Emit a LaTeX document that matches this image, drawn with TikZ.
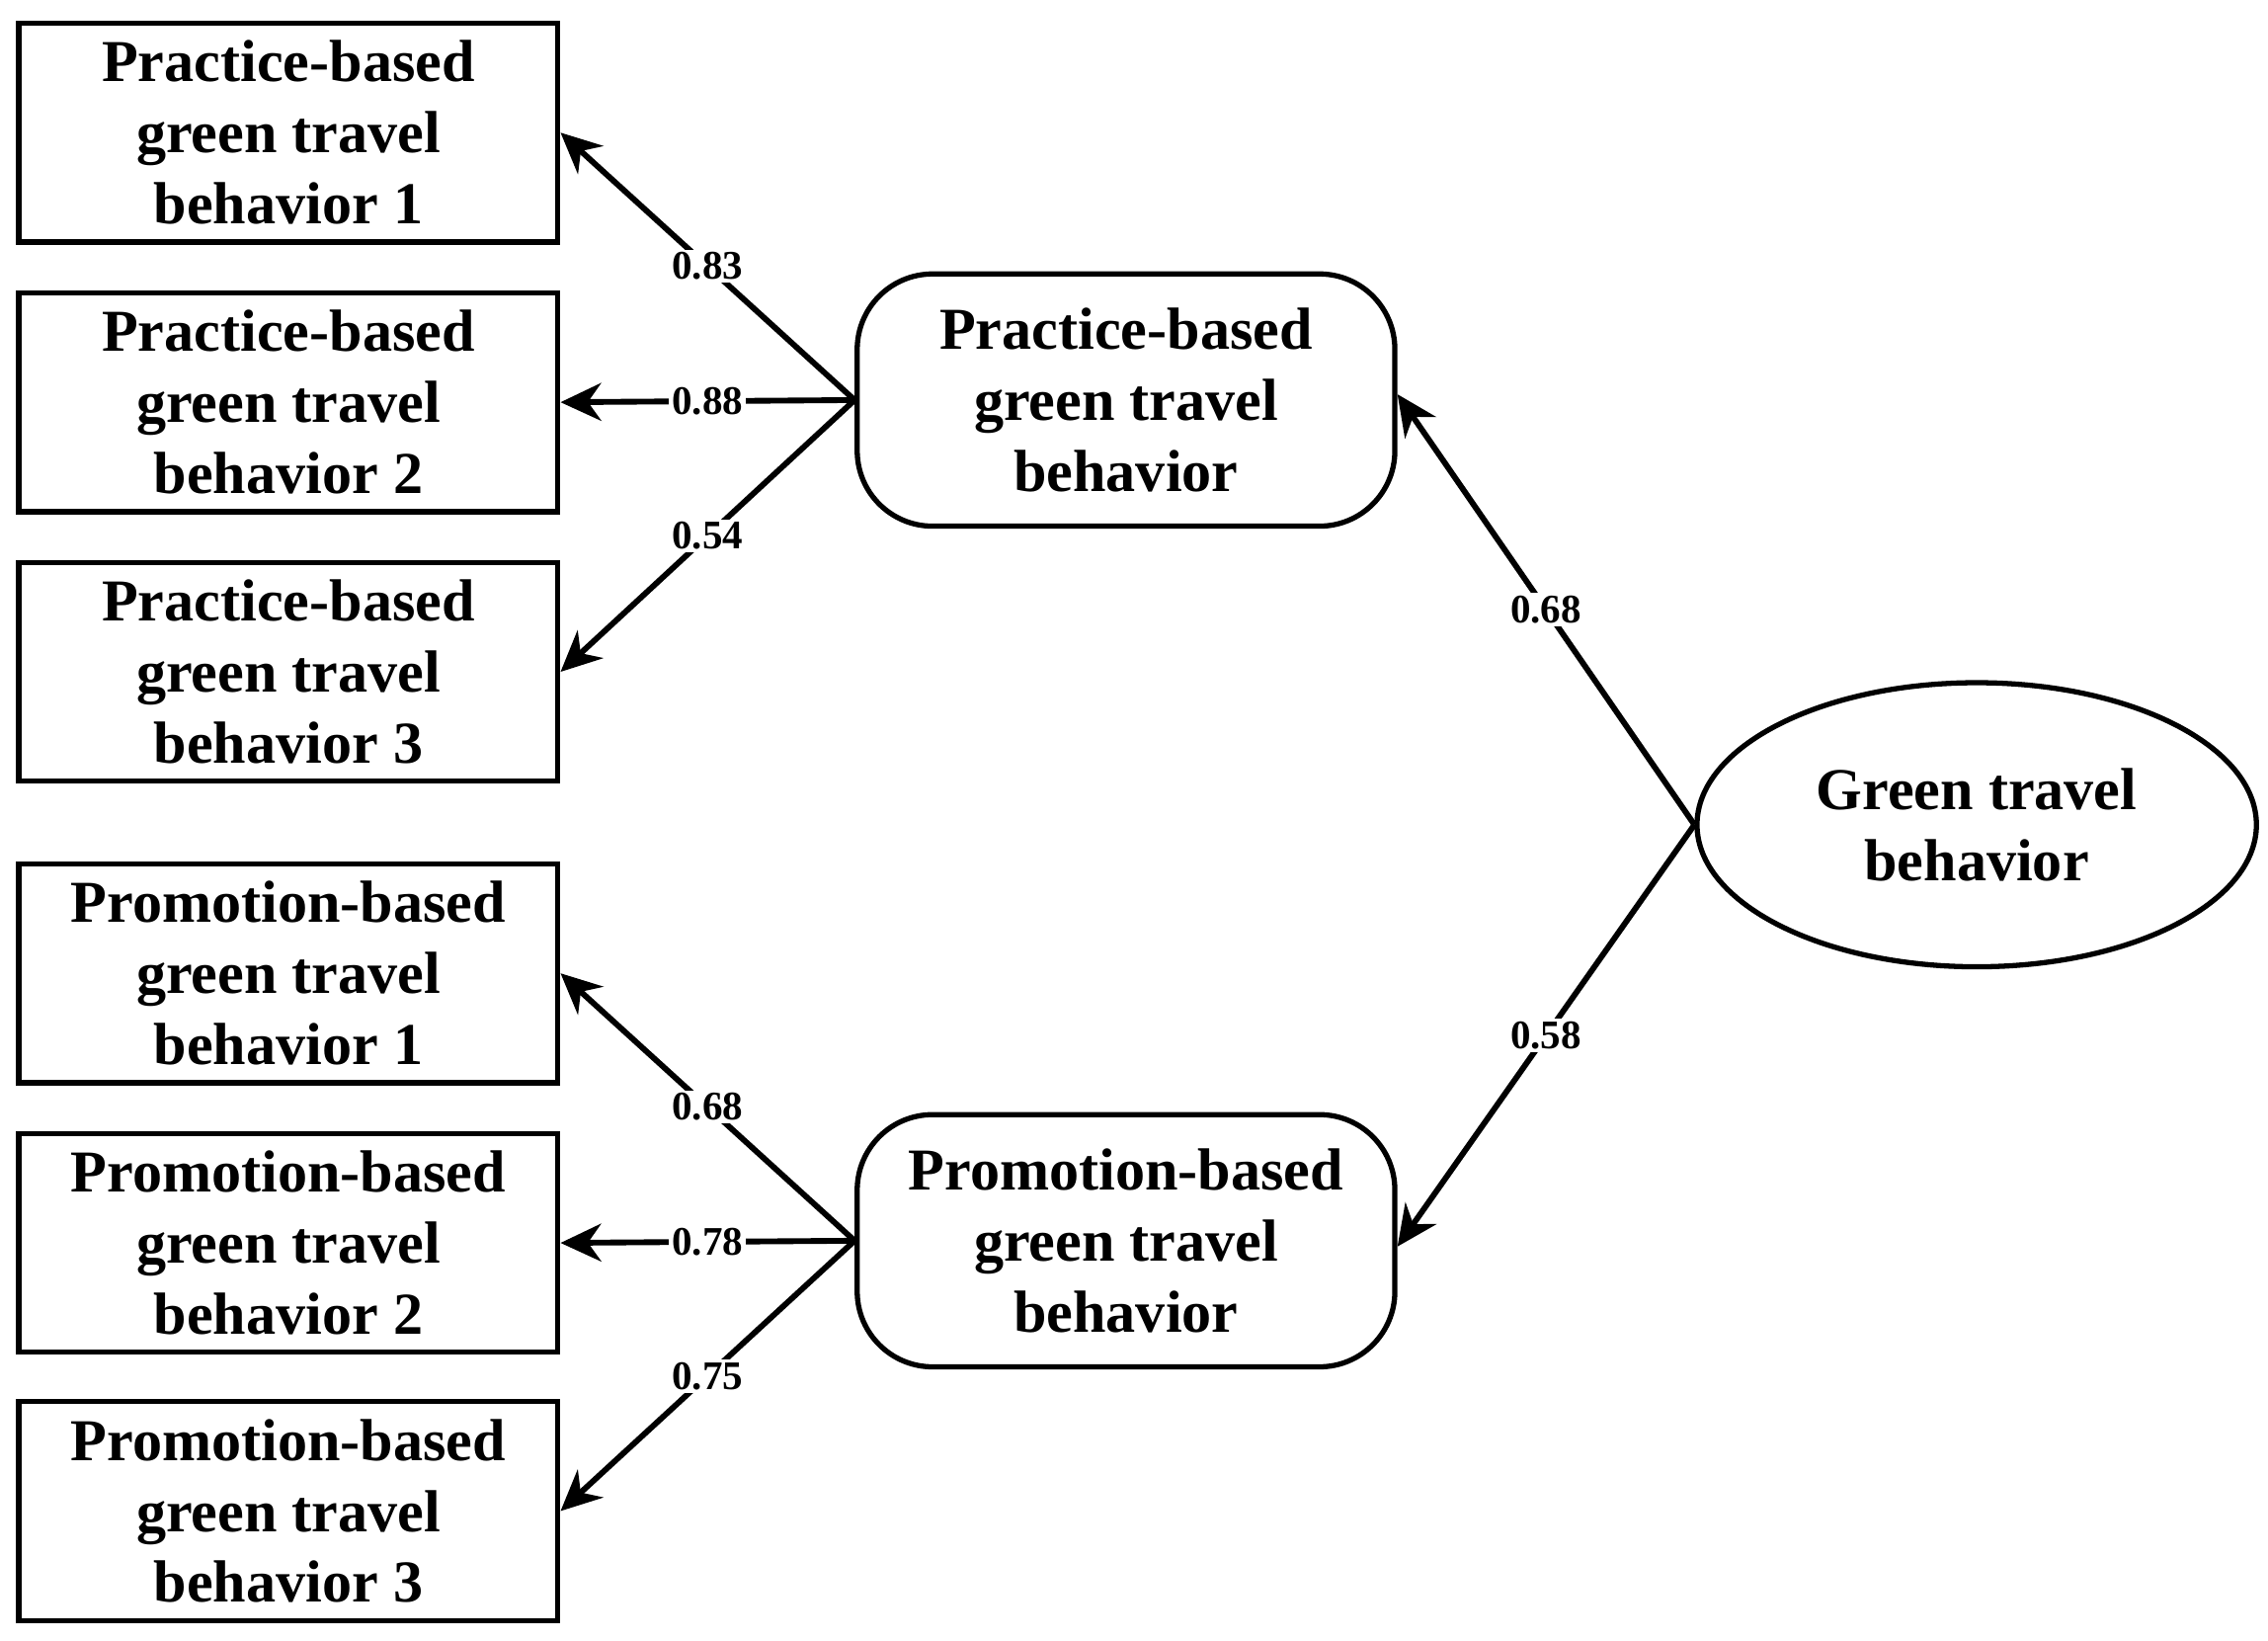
\documentclass[tikz,border=0pt]{standalone}
\usepackage{fontspec}
\setmainfont{Liberation Serif}
\usetikzlibrary{arrows.meta,shapes.geometric}
\tikzset{
  obs/.style={draw, line width=1.8pt, minimum width=186pt, minimum height=75.5pt, align=center, font=\fontsize{20.5}{24.5}\selectfont\bfseries},
  lat/.style={draw, line width=1.8pt, rounded corners=26pt, minimum width=185.5pt, minimum height=87pt, align=center, font=\fontsize{20.5}{24.5}\selectfont\bfseries},
  load/.style={line width=2pt, -{Stealth[length=14pt,width=13pt]}},
  coef/.style={fill=white, inner sep=1pt, font=\fontsize{14}{14}\selectfont\bfseries}
}
\begin{document}
\begin{tikzpicture}[x=0.5pt,y=-0.5pt]
\useasboundingbox (0,0) rectangle (1565,1132);
\node[obs] (pr1) at (199,91.5) {Practice-based\\green travel\\behavior 1};
\node[obs] (pr2) at (199,277.5) {Practice-based\\green travel\\behavior 2};
\node[obs] (pr3) at (199,463.5) {Practice-based\\green travel\\behavior 3};
\node[obs] (pm1) at (199,671.5) {Promotion-based\\green travel\\behavior 1};
\node[obs] (pm2) at (199,857.5) {Promotion-based\\green travel\\behavior 2};
\node[obs] (pm3) at (199,1042.5) {Promotion-based\\green travel\\behavior 3};
\node[lat] (prl) at (777,276) {Practice-based\\green travel\\behavior};
\node[lat] (pml) at (777,856) {Promotion-based\\green travel\\behavior};
\node[draw, ellipse, line width=1.8pt, minimum width=193pt, minimum height=98pt, align=center, font=\fontsize{20.5}{24.5}\selectfont\bfseries] (gtb) at (1364,569) {Green travel\\behavior};
\draw[load] (prl.west) -- (pr1.east) node[coef, pos=0.5] {0.83};
\draw[load] (prl.west) -- (pr2.east) node[coef, pos=0.5] {0.88};
\draw[load] (prl.west) -- (pr3.east) node[coef, pos=0.5] {0.54};
\draw[load] (pml.west) -- (pm1.east) node[coef, pos=0.5] {0.68};
\draw[load] (pml.west) -- (pm2.east) node[coef, pos=0.5] {0.78};
\draw[load] (pml.west) -- (pm3.east) node[coef, pos=0.5] {0.75};
\draw[load] (gtb.west) -- ([yshift=2pt]prl.east) node[coef, pos=0.5] {0.68};
\draw[load] (gtb.west) -- ([yshift=-2pt]pml.east) node[coef, pos=0.5] {0.58};
\end{tikzpicture}
\end{document}
